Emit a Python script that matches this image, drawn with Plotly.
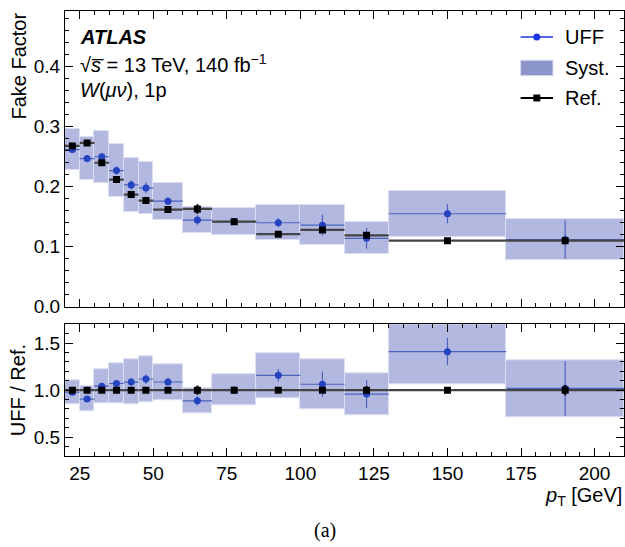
import numpy as np
import plotly.graph_objects as go

# Binning in pT [GeV]
bin_edges = [20, 25, 30, 35, 40, 45, 50, 60, 70, 85, 100, 115, 130, 170, 210]

# Universal fake factor (UFF) with statistical and systematic uncertainties
uff = [0.262, 0.247, 0.250, 0.227, 0.203, 0.198, 0.176, 0.1445, 0.142, 0.140, 0.136, 0.114, 0.155, 0.112]
uff_stat = [0.004, 0.006, 0.006, 0.007, 0.008, 0.009, 0.007, 0.008, 0.005, 0.008, 0.0175, 0.0175, 0.016, 0.032]
uff_syst = [0.034, 0.0365, 0.043, 0.0445, 0.0445, 0.043, 0.031, 0.0215, 0.023, 0.029, 0.0335, 0.0265, 0.0385, 0.0335]

# Reference fake factor
ref = [0.268, 0.273, 0.240, 0.212, 0.187, 0.177, 0.162, 0.163, 0.1417, 0.121, 0.128, 0.119, 0.110, 0.110]
ref_stat = [0.002, 0.002, 0.002, 0.002, 0.002, 0.002, 0.002, 0.008, 0.003, 0.002, 0.004, 0.005, 0.003, 0.006]

edges = np.array(bin_edges, dtype=float)
centers = 0.5 * (edges[:-1] + edges[1:])
half_w = 0.5 * (edges[1:] - edges[:-1])
uff_a, uff_stat_a, uff_syst_a = np.array(uff), np.array(uff_stat), np.array(uff_syst)
ref_a, ref_stat_a = np.array(ref), np.array(ref_stat)

# Ratio UFF / Ref.
ratio = uff_a / ref_a
ratio_stat = uff_stat_a / ref_a
ratio_syst_lo = (uff_a - uff_syst_a) / ref_a
ratio_syst_hi = (uff_a + uff_syst_a) / ref_a
ref_ratio = np.ones_like(ref_a)
ref_ratio_stat = ref_stat_a / ref_a

BLUE = "#2443c0"
BLUE_LINE = "#4a63bd"
LEG_BLUE = "#1a35e0"
BOX = "#b3b8e0"
BOX_EDGE = "#dcdff2"
LEG_BOX = "#8c95ca"
FONT = "Liberation Sans, Arial, sans-serif"
TXT = 20
TICK = 19

fig = go.Figure()


def add_panel(xa, ya, yc, ylo, yhi, yerr, rc, rerr):
    # systematic bands
    fig.add_trace(go.Bar(
        x=centers, y=yhi - ylo, base=ylo, width=2 * half_w,
        marker=dict(color=BOX, line=dict(color=BOX_EDGE, width=1)),
        xaxis=xa, yaxis=ya, showlegend=False, hoverinfo="skip"))
    # UFF points
    fig.add_trace(go.Scatter(
        x=centers, y=yc, mode="markers",
        marker=dict(symbol="circle", size=7, color=BLUE),
        error_x=dict(type="data", array=half_w, width=0, thickness=1.2, color=BLUE_LINE),
        error_y=dict(type="data", array=yerr, width=0, thickness=1.2, color=BLUE_LINE),
        xaxis=xa, yaxis=ya, showlegend=False))
    # Reference points
    fig.add_trace(go.Scatter(
        x=centers, y=rc, mode="markers",
        marker=dict(symbol="square", size=7, color="black"),
        error_x=dict(type="data", array=half_w, width=0, thickness=2.2, color="#444444"),
        error_y=dict(type="data", array=rerr, width=0, thickness=2, color="black"),
        xaxis=xa, yaxis=ya, showlegend=False))


add_panel("x", "y", uff_a, uff_a - uff_syst_a, uff_a + uff_syst_a, uff_stat_a, ref_a, ref_stat_a)
add_panel("x2", "y2", ratio, ratio_syst_lo, ratio_syst_hi, ratio_stat, ref_ratio, ref_ratio_stat)

axis_common = dict(
    showline=True, linecolor="black", linewidth=1.2, mirror="allticks",
    ticks="inside", ticklen=8, tickwidth=1.1, tickcolor="black",
    showgrid=False, zeroline=False,
    tickfont=dict(family=FONT, size=TICK, color="black"),
)

fig.update_layout(
    width=625, height=547,
    margin=dict(l=65, r=1, t=11, b=91),
    paper_bgcolor="white", plot_bgcolor="white",
    barmode="overlay", bargap=0,
    font=dict(family=FONT, size=TXT, color="black"),
    showlegend=False,
    xaxis=dict(axis_common, domain=[0, 1], range=[20, 210], anchor="y",
               matches="x2", showticklabels=False, tick0=0, dtick=25,
               minor=dict(ticks="inside", ticklen=4, dtick=5, tickcolor="black")),
    yaxis=dict(axis_common, domain=[0.3355, 1], range=[0, 0.493], anchor="x",
               tick0=0, dtick=0.1, tickformat=".1f",
               minor=dict(ticks="inside", ticklen=4, dtick=0.02, tickcolor="black")),
    xaxis2=dict(axis_common, domain=[0, 1], range=[20, 210], anchor="y2",
                tick0=0, dtick=25,
                minor=dict(ticks="inside", ticklen=4, dtick=5, tickcolor="black")),
    yaxis2=dict(axis_common, domain=[0, 0.296], range=[0.3, 1.7], anchor="x2",
                tick0=0.5, dtick=0.5, tickformat=".1f",
                minor=dict(ticks="inside", ticklen=4, dtick=0.1, tickcolor="black")),
)

# Legend (drawn in paper coordinates, upper right of the top panel)
leg_x0, leg_x1, leg_xm = 0.815, 0.873, 0.844
leg_rows = {"UFF": 0.9416, "Syst.": 0.872, "Ref.": 0.8045}
shapes = [
    dict(type="line", xref="paper", yref="paper", x0=leg_x0, x1=leg_x1,
         y0=leg_rows["UFF"], y1=leg_rows["UFF"], line=dict(color=LEG_BLUE, width=1.5)),
    dict(type="circle", xref="paper", yref="paper", xsizemode="pixel", ysizemode="pixel",
         xanchor=leg_xm, yanchor=leg_rows["UFF"], x0=-3.5, x1=3.5, y0=-3.5, y1=3.5,
         fillcolor=LEG_BLUE, line=dict(color=LEG_BLUE, width=0)),
    dict(type="rect", xref="paper", yref="paper", x0=leg_x0, x1=leg_x1,
         y0=leg_rows["Syst."] - 0.0175, y1=leg_rows["Syst."] + 0.0175,
         fillcolor=LEG_BOX, line=dict(color=BOX_EDGE, width=1)),
    dict(type="line", xref="paper", yref="paper", x0=leg_x0, x1=leg_x1,
         y0=leg_rows["Ref."], y1=leg_rows["Ref."], line=dict(color="black", width=1.8)),
    dict(type="rect", xref="paper", yref="paper", xsizemode="pixel", ysizemode="pixel",
         xanchor=leg_xm, yanchor=leg_rows["Ref."], x0=-3.5, x1=3.5, y0=-3.5, y1=3.5,
         fillcolor="black", line=dict(color="black", width=0)),
]
fig.update_layout(shapes=shapes)
for name, yy in leg_rows.items():
    fig.add_annotation(text=name, xref="paper", yref="paper", x=0.89, y=yy,
                       xanchor="left", yanchor="middle", showarrow=False,
                       font=dict(family=FONT, size=TXT, color="black"))

# Experiment label and selection
annotations = [
    dict(text="<b><i>ATLAS</i></b>", x=0.024, y=0.9416),
    dict(text="√<i>s\u0305</i> = 13 TeV, 140 fb<sup>−1</sup>", x=0.024, y=0.8815),
    dict(text="<i>W</i>(<i>μν</i>), 1p", x=0.024, y=0.822),
]
for a in annotations:
    fig.add_annotation(xref="paper", yref="paper", xanchor="left", yanchor="middle",
                       showarrow=False, font=dict(family=FONT, size=TXT, color="black"), **a)

# Axis titles
fig.add_annotation(text="Fake Factor", xref="paper", yref="paper", x=-0.084, y=1.0,
                   xanchor="center", yanchor="top", textangle=-90, showarrow=False,
                   font=dict(family=FONT, size=TXT, color="black"))
fig.add_annotation(text="UFF / Ref.", xref="paper", yref="paper", x=-0.084, y=0.148,
                   xanchor="center", yanchor="middle", textangle=-90, showarrow=False,
                   font=dict(family=FONT, size=TXT, color="black"))
fig.add_annotation(text="<i>p</i><sub>T</sub> [GeV]", xref="paper", yref="paper", x=1.0, y=-0.092,
                   xanchor="right", yanchor="middle", showarrow=False,
                   font=dict(family=FONT, size=TXT, color="black"))
fig.add_annotation(text="(a)", xref="paper", yref="paper", x=0.465, y=-0.168,
                   xanchor="center", yanchor="middle", showarrow=False,
                   font=dict(family="Liberation Serif, Times New Roman, serif", size=20, color="black"))

fig.write_html("out.html")
